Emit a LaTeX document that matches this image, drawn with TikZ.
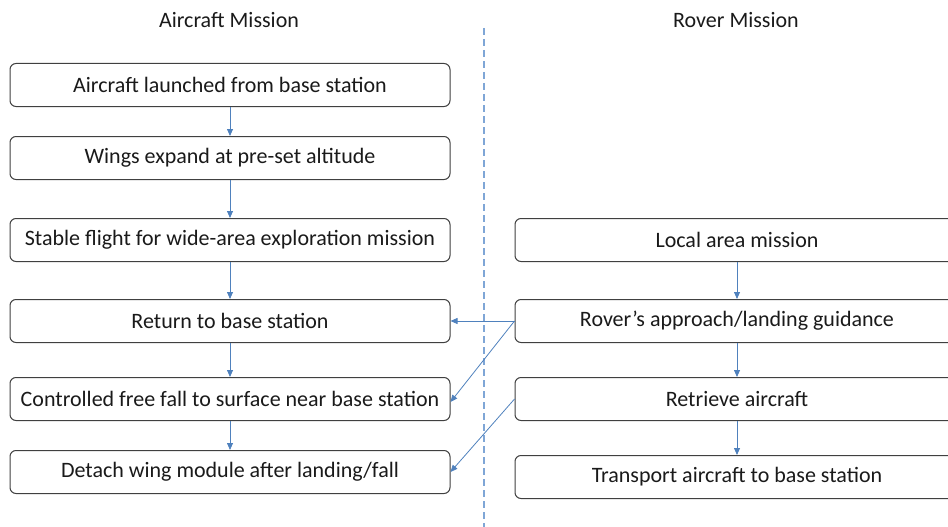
\documentclass[tikz,border=0pt]{standalone}
\usepackage{fontspec}
\setmainfont{Carlito}
\usetikzlibrary{arrows.meta,positioning}
\definecolor{MissionInk}{HTML}{1A1A1A}
\definecolor{MissionEdge}{HTML}{404040}
\definecolor{MissionBlue}{HTML}{4F81BD}
\definecolor{MissionSplit}{HTML}{7FA6D6}

\begin{document}
\begin{tikzpicture}[x=1pt,y=-1pt,>=Latex]
\tikzset{
  task/.style={draw=MissionEdge,line width=1pt,rounded corners=6pt,
               minimum width=440pt,minimum height=43pt,align=center,
               text=MissionInk,fill=white,font=\fontsize{22}{26}\selectfont},
  head/.style={font=\fontsize{22}{26}\selectfont,text=MissionInk},
  flow/.style={MissionBlue,line width=0.8pt,-{Triangle[length=7pt,width=6pt]}},
  split/.style={MissionSplit,line width=1.2pt,dash pattern=on 7pt off 4pt}
}
\useasboundingbox (0,0) rectangle (948,527);

% ---------- headings ------------------------------------------------------
\node[head] (hair) at (229,20) {Aircraft Mission};
\node[head] (hrov) at (736,20) {Rover Mission};

% ---------- divider -------------------------------------------------------
\coordinate (dtop) at (484,28);
\coordinate (dbot) at (484,527);
\draw[split] (dtop)--(dbot);

% ---------- aircraft mission ----------------------------------------------
\node[task] (launch) at (230,85)  {Aircraft launched from base station};
\node[task] (wings)  at (230,158) {Wings expand at pre-set altitude};
\node[task] (stable) at (230,240) {Stable flight for wide-area exploration mission};
\node[task] (return) at (230,321) {Return to base station};
\node[task] (fall)   at (230,399) {Controlled free fall to surface near base station};
\node[task] (detach) at (230,472) {Detach wing module after landing/fall};

\draw[flow] (launch)--(wings);
\draw[flow] (wings)--(stable);
\draw[flow] (stable)--(return);
\draw[flow] (return)--(fall);
\draw[flow] (fall)--(detach);

% ---------- rover mission -------------------------------------------------
\node[task,minimum width=444pt] (local)     at (737,240) {Local area mission};
\node[task,minimum width=444pt] (approach)  at (737,321) {Rover’s approach/landing guidance};
\node[task,minimum width=444pt] (retrieve)  at (737,399) {Retrieve aircraft};
\node[task,minimum width=444pt] (transport) at (737,477) {Transport aircraft to base station};

\draw[flow] (local)--(approach);
\draw[flow] (approach)--(retrieve);
\draw[flow] (retrieve)--(transport);

% ---------- hand-over between the two ------------------------------------
\draw[flow] (approach.west)--(return.east);
\draw[flow] (approach.west)--([yshift=-3pt]fall.east);
\draw[flow] (retrieve.west)--(detach.east);
\end{tikzpicture}
\end{document}
